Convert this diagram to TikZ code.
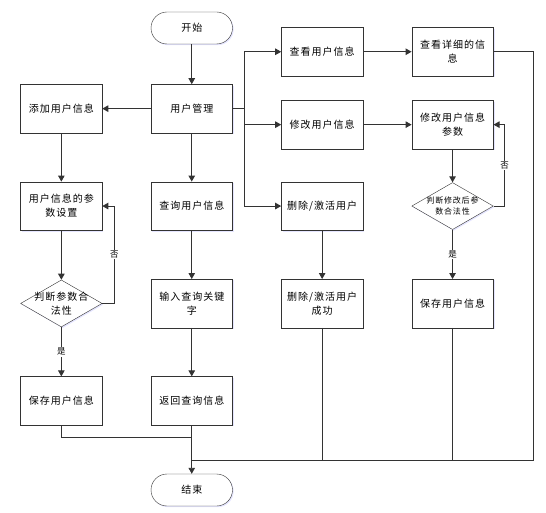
\documentclass[tikz,border=0pt]{standalone}
\usepackage{fontspec}
\setmainfont[LetterSpace=10]{Noto Sans CJK SC}
\usepackage{tikz}
\usetikzlibrary{shapes.geometric, arrows.meta, positioning, calc, shadows}
\tikzstyle{startstop} = [rectangle, rounded corners=16pt, minimum width=81.5pt, minimum height=32pt, align=center, draw=black!80, fill=white, drop shadow={shadow xshift=1.2pt, shadow yshift=-1.2pt, fill=blue!20, opacity=0.5}]
\tikzstyle{block} = [rectangle, minimum width=81.5pt, minimum height=48.5pt, align=center, inner sep=1pt, draw=black!80, fill=white, drop shadow={shadow xshift=1.2pt, shadow yshift=-1.2pt, fill=blue!20, opacity=0.5}]
\tikzstyle{decision} = [diamond, minimum width=81.5pt, minimum height=47pt, inner sep=0pt, draw=black!80, fill=white, drop shadow={shadow xshift=1.2pt, shadow yshift=-1.2pt, fill=blue!20, opacity=0.5}]
\tikzstyle{arrow} = [line width=0.9pt, draw=black!80, -{Triangle[length=6pt, width=6.5pt]}]
\tikzstyle{line} = [line width=0.9pt, draw=black!80]
\tikzstyle{tag} = [font=\fontsize{8.5}{10}\selectfont, fill=white, inner sep=1pt]

\begin{document}
\begin{tikzpicture}[node distance=48.5pt, every node/.style={font=\fontsize{10}{14}\selectfont}]
  \useasboundingbox (0,0) rectangle (546pt,-513pt);
  \node[startstop] (start) at (191.75pt,-28pt) {开始};
  \node[block, below=40pt of start] (um) {用户管理};
  \node[block, left=of um] (add) {添加用户信息};
  \node[block, below=of um] (query) {查询用户信息};
  \node[block, below=of query] (input) {输入查询关键\\字};
  \node[block, below=of input] (ret) {返回查询信息};
  \node[startstop, below=of ret] (end) {结束};
  \node[block, left=of query] (param) {用户信息的参\\数设置};
  \node[decision, left=of input, label={[align=center]center:{判断参数合\\法性}}] (check) {};
  \node[block, left=of ret] (save) {保存用户信息};
  \node[block, right=of um, yshift=-16pt] (modify) {修改用户信息};
  \node[block, above=24pt of modify] (view) {查看用户信息};
  \node[block, right=of view] (detail) {查看详细的信\\息};
  \node[block, right=of modify] (mparam) {修改用户信息\\参数};
  \node[block, right=of query] (del) {删除/激活用户};
  \node[block, right=of input] (delok) {删除/激活用户\\成功};
  \node[decision, right=of del, label={[align=center, font=\fontsize{8}{10.5}\selectfont]center:{判断修改后参\\数合法性}}] (mcheck) {};
  \node[block, right=of delok] (msave) {保存用户信息};
  \coordinate (j1) at ($(ret.south)+(0,-12pt)$);
  \coordinate (j2) at ($(end.north)+(0,13pt)$);

  \draw[arrow] (start) -- (um);
  \draw[arrow] (um) -- (add);
  \draw[arrow] (add) -- (param);
  \draw[arrow] (param) -- (check);
  \draw[arrow] (check) -- node[tag]{是} (save);
  \draw[arrow] (check.east) -- ++(12pt,0) |- node[tag, pos=0.25]{否} (param.east);
  \draw[arrow] (um) -- (query);
  \draw[arrow] (query) -- (input);
  \draw[arrow] (input) -- (ret);
  \draw[arrow] (ret) -- (end);
  \draw[arrow] (um.east) -- ++(11.5pt,0) |- (view.west);
  \draw[arrow] (um.east) -- ++(11.5pt,0) |- (modify.west);
  \draw[arrow] (um.east) -- ++(11.5pt,0) |- (del.west);
  \draw[arrow] (view) -- (detail);
  \draw[arrow] (modify) -- (mparam);
  \draw[arrow] (mparam) -- (mcheck);
  \draw[arrow] (mcheck) -- node[tag]{是} (msave);
  \draw[arrow] (mcheck.east) -- ++(11pt,0) |- node[tag, pos=0.25]{否} (mparam.east);
  \draw[arrow] (del) -- (delok);
  \draw[line] (save.south) |- (j1);
  \draw[line] (delok.south) |- (j2);
  \draw[line] (msave.south) |- (j2);
  \draw[line] (detail.east) -- ++(40pt,0) |- (j2);
\end{tikzpicture}
\end{document}
